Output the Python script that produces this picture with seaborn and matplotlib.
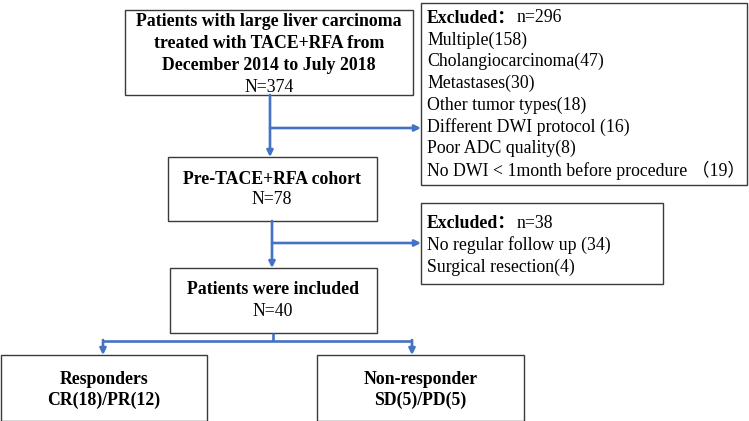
import matplotlib
matplotlib.use("Agg")
import matplotlib.pyplot as plt
from matplotlib.patches import Rectangle
import seaborn as sns

sns.set_theme(style="white")
plt.rcParams['font.family'] = ['Liberation Serif', 'Noto Sans CJK SC', 'DejaVu Sans']

# ---- content ----
top_title = ["Patients with large liver carcinoma",
             "treated with TACE+RFA from",
             "December 2014 to July 2018"]
top_n = "N=374"
excl1_head = "Excluded："
excl1_n = "n=296"
excl1_items = ["Multiple(158)", "Cholangiocarcinoma(47)", "Metastases(30)",
               "Other tumor types(18)", "Different DWI protocol (16)",
               "Poor ADC quality(8)", "No DWI < 1month before procedure （19）"]
cohort_title = "Pre-TACE+RFA cohort"
cohort_n = "N=78"
excl2_head = "Excluded："
excl2_n = "n=38"
excl2_items = ["No regular follow up (34)", "Surgical resection(4)"]
incl_title = "Patients were included"
incl_n = "N=40"
groups = ["Responders", "Non-responder"]
group_detail = ["CR(18)/PR(12)", "SD(5)/PD(5)"]

W, H = 749, 421
fig = plt.figure(figsize=(W / 100, H / 100), dpi=100)
ax = fig.add_axes([0, 0, 1, 1])
ax.set_xlim(0, W)
ax.set_ylim(H, 0)
ax.axis("off")

EDGE = "#3a3a3a"
BLUE = "#4472C4"
FS = 12.8
VA = "center_baseline"
YO = -2


def box(x0, y0, x1, y1):
    ax.add_patch(Rectangle((x0, y0), x1 - x0, y1 - y0, fill=False,
                           edgecolor=EDGE, lw=1.0, clip_on=False))


def ctext(x, y, s, bold=False):
    ax.text(x, y + YO, s, ha="center", va=VA, fontsize=FS,
            fontweight="bold" if bold else "normal", color="black")


def ltext(x, y, s, bold=False):
    return ax.text(x, y + YO, s, ha="left", va=VA, fontsize=FS,
                   fontweight="bold" if bold else "normal", color="black")


def line(xs, ys):
    ax.plot(xs, ys, color=BLUE, lw=1.9, solid_capstyle="butt")


def arrow(x0, y0, x1, y1):
    ax.annotate("", xy=(x1, y1), xytext=(x0, y0),
                arrowprops=dict(arrowstyle="-|>", color=BLUE, lw=1.9,
                                mutation_scale=9, shrinkA=0, shrinkB=0))


# box 1
box(125, 10, 413, 95)
for i, s in enumerate(top_title):
    ctext(269, 22 + i * 21.5, s, bold=True)
ctext(269, 87, top_n)

# excluded box 1
box(421, 3, 747, 185)
renderer = fig.canvas.get_renderer()
t = ltext(427, 18, excl1_head, bold=True)
bb = t.get_window_extent(renderer)
ltext(bb.x1 + 1, 18, excl1_n)
for i, s in enumerate(excl1_items):
    ltext(427, 40 + i * 21.7, s)

# arrows 1
arrow(270, 95, 270, 157)
arrow(270, 128, 421, 128)

# cohort box
box(168, 157, 377, 221)
ctext(272, 179, cohort_title, bold=True)
ctext(272, 200, cohort_n)

# arrows 2
arrow(272, 221, 272, 268)
arrow(272, 243, 421, 243)

# excluded box 2
box(421, 203, 663, 284)
t = ltext(427, 223, excl2_head, bold=True)
bb = t.get_window_extent(renderer)
ltext(bb.x1 + 1, 223, excl2_n)
for i, s in enumerate(excl2_items):
    ltext(427, 245 + i * 22, s)

# included box
box(170, 268, 377, 333)
ctext(273, 290, incl_title, bold=True)
ctext(273, 312, incl_n)

# split
line([273, 273], [333, 341])
line([103, 412], [341, 341])
arrow(103, 340, 103, 355)
arrow(412, 340, 412, 355)

# group boxes
gx = [(0.5, 207), (317, 524)]
for (x0, x1), g, d in zip(gx, groups, group_detail):
    box(x0, 355, x1, 420.5)
    cx = (x0 + x1) / 2
    ctext(cx, 379, g, bold=True)
    ctext(cx, 400, d, bold=True)

fig.savefig("out.png", dpi=100, facecolor="white")
